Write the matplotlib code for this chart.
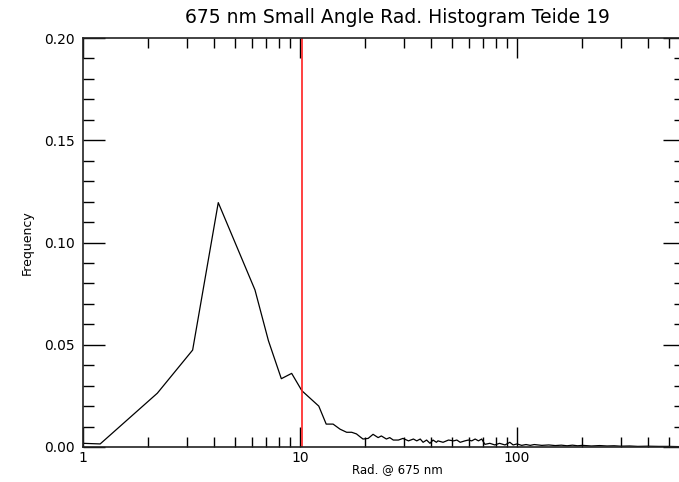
import matplotlib
matplotlib.use("Agg")
import matplotlib.pyplot as plt
from matplotlib.ticker import FixedLocator, FixedFormatter, MultipleLocator, LogLocator, NullFormatter

title = "675 nm Small Angle Rad. Histogram Teide 19"
xlabel = "Rad. @ 675 nm"
ylabel = "Frequency"

rad = [1.0, 1.2, 2.2, 3.2, 4.2, 6.2, 7.15, 8.2, 9.15, 10.2, 12.2, 13.2, 14.2, 15.3,
       16.4, 17.3, 18.2, 18.9, 19.5, 20.6, 21.7, 22.9, 23.7, 25.0, 25.9, 26.9, 28.4,
       29.8, 31.6, 33.3, 34.5, 35.8, 36.9, 38.3, 39.7, 41.0, 42.5, 43.2, 45.6, 48.3,
       51.0, 52.8, 54.7, 57.5, 59.6, 61.8, 64.1, 66.4, 68.7, 71.1, 74.9, 79.0, 83.0,
       88.0, 92.6, 95.9, 100, 105, 110, 115, 120, 130, 140, 150, 160, 170, 180, 190,
       200, 220, 240, 260, 280, 300, 330, 360, 400, 450, 500, 550, 600]
freq = [0.0018, 0.0015, 0.0263, 0.0474, 0.1195, 0.0768, 0.052, 0.0334, 0.036, 0.0275,
        0.020, 0.0112, 0.0112, 0.0087, 0.0072, 0.0072, 0.0064, 0.005, 0.0039, 0.0042,
        0.0062, 0.0046, 0.0054, 0.0039, 0.0046, 0.0034, 0.0034, 0.0042, 0.003, 0.0039,
        0.003, 0.0039, 0.0023, 0.0034, 0.0018, 0.0034, 0.0023, 0.003, 0.0023, 0.0034,
        0.003, 0.0034, 0.0023, 0.003, 0.0034, 0.003, 0.0039, 0.003, 0.0039, 0.0013,
        0.0018, 0.001, 0.0018, 0.001, 0.0023, 0.001, 0.0015, 0.0008, 0.0012, 0.0008,
        0.0012, 0.0008, 0.001, 0.0007, 0.0009, 0.0006, 0.0009, 0.0006, 0.0008, 0.0005,
        0.0007, 0.0005, 0.0006, 0.0004, 0.0005, 0.0003, 0.0004, 0.0003, 0.0003, 0.0002,
        0.0002]
marker_x = 10.25
x_range = [1, 594]
y_range = [0.0, 0.20]
x_ticks = [1, 10, 100]
x_ticklabels = ["1", "10", "100"]
y_ticks = [0.0, 0.05, 0.10, 0.15, 0.20]
y_ticklabels = ["0.00", "0.05", "0.10", "0.15", "0.20"]

fig = plt.figure(figsize=(6.79, 4.82), dpi=100)
W, H = 679, 482
left, right, top, bottom = 83, 685, 38, 447
ax = fig.add_axes([left / W, (H - bottom) / H, (right - left) / W, (bottom - top) / H])

ax.plot(rad, freq, color="black", lw=0.9)
ax.axvline(marker_x, color="#ff2020", lw=1.2)

ax.set_xscale("log")
ax.set_xlim(*x_range)
ax.set_ylim(*y_range)

ax.xaxis.set_major_locator(FixedLocator(x_ticks))
ax.xaxis.set_major_formatter(FixedFormatter(x_ticklabels))
ax.xaxis.set_minor_locator(LogLocator(base=10, subs=range(2, 10)))
ax.xaxis.set_minor_formatter(NullFormatter())
ax.yaxis.set_major_locator(FixedLocator(y_ticks))
ax.yaxis.set_major_formatter(FixedFormatter(y_ticklabels))
ax.yaxis.set_minor_locator(MultipleLocator(0.01))

ax.tick_params(axis="x", which="major", direction="in", length=14.4, width=1.0,
               top=True, bottom=True, labelsize=10, pad=3)
ax.tick_params(axis="x", which="minor", direction="in", length=7.2, width=1.0,
               top=True, bottom=True)
ax.tick_params(axis="y", which="major", direction="in", length=15.6, width=1.0,
               left=True, right=True, labelsize=10, pad=6)
ax.tick_params(axis="y", which="minor", direction="in", length=8.0, width=1.0,
               left=True, right=True)

for s in ax.spines.values():
    s.set_linewidth(1.2)
    s.set_color("#222222")

cx = (397 - left) / (right - left)
ax.set_title(title, fontsize=13.5, pad=11, x=cx)
ax.set_xlabel(xlabel, fontsize=8.5, labelpad=0)
ax.xaxis.set_label_coords(cx, -0.055)
ax.xaxis.label.set_va("center")
ax.set_ylabel(ylabel, fontsize=9, labelpad=7)

fig.savefig("out.png", dpi=100)
